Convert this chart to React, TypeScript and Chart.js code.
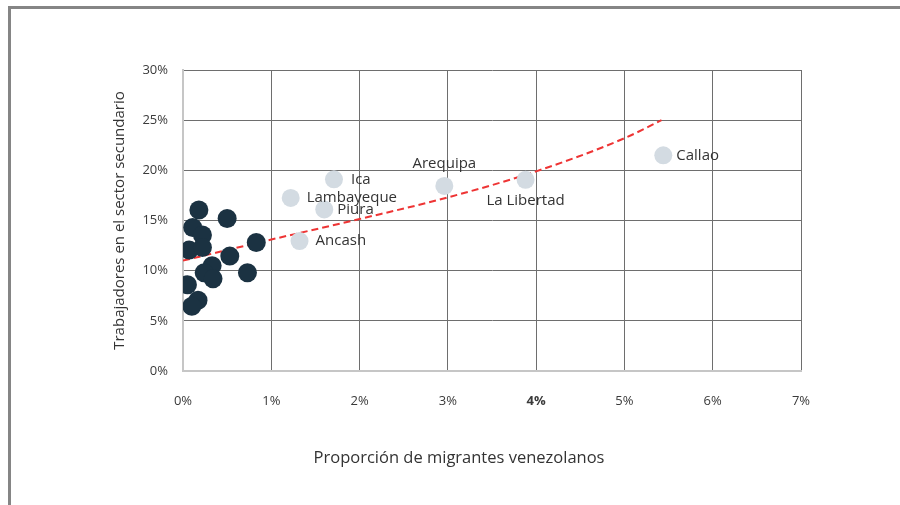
import React, { useEffect, useRef } from 'react';
import { Chart, registerables } from 'chart.js';

Chart.register(...registerables);

// Departamentos con baja proporción de migrantes (puntos oscuros)
const otherX = [0.18, 0.5, 0.11, 0.22, 0.83, 0.07, 0.22, 0.53, 0.33, 0.24, 0.73, 0.34, 0.05, 0.17, 0.1];
const otherY = [16.05, 15.2, 14.3, 13.55, 12.8, 12.05, 12.3, 11.45, 10.5, 9.8, 9.8, 9.2, 8.6, 7.05, 6.45];

// Departamentos destacados
const regionNames = ['Lambayeque', 'Ica', 'Piura', 'Ancash', 'Arequipa', 'La Libertad', 'Callao'];
const regionX = [1.22, 1.71, 1.6, 1.32, 2.96, 3.88, 5.44];
const regionY = [17.25, 19.1, 16.1, 12.95, 18.45, 19.05, 21.5];

// Línea de tendencia
const trendX = [0, 1, 2, 3, 4, 5, 5.42];
const trendY = [11.0, 13.1, 15.15, 17.3, 19.9, 23.2, 25.0];

const xTickValues = [0, 1, 2, 3, 4, 5, 6, 7];
const yTickValues = [0, 5, 10, 15, 20, 25, 30];

const xTitle = 'Proporción de migrantes venezolanos';
const yTitle = 'Trabajadores en el sector secundario';

const FONT = '"Open Sans", sans-serif';

const labelPlacement: Record<string, { side: string; dx: number; dy: number }> = {
  Lambayeque: { side: 'right', dx: 16, dy: 0 },
  Ica: { side: 'right', dx: 17, dy: 0 },
  Piura: { side: 'right', dx: 13, dy: 0 },
  Ancash: { side: 'right', dx: 16, dy: 0 },
  Arequipa: { side: 'center', dx: 0, dy: -22 },
  'La Libertad': { side: 'center', dx: 0, dy: 21 },
  Callao: { side: 'right', dx: 13, dy: 0 },
};

export default function App() {
  const ref = useRef<HTMLCanvasElement>(null);

  useEffect(() => {
    if (!ref.current) return;

    const textPlugin = {
      id: 'textPlugin',
      afterDatasetsDraw(chart: any) {
        const ctx = chart.ctx;
        ctx.save();
        const meta = chart.getDatasetMeta(1);
        ctx.font = `15px ${FONT}`;
        ctx.fillStyle = '#333333';
        ctx.textBaseline = 'middle';
        meta.data.forEach((pt: any, i: number) => {
          const name = regionNames[i];
          const p = labelPlacement[name] || { side: 'right', dx: 15, dy: 0 };
          ctx.textAlign = p.side === 'right' ? 'left' : 'center';
          ctx.fillText(name, pt.x + p.dx, pt.y + p.dy);
        });
        ctx.restore();
      },
      afterDraw(chart: any) {
        const ctx = chart.ctx;
        const area = chart.chartArea;
        ctx.save();
        ctx.font = `16.5px ${FONT}`;
        ctx.fillStyle = '#333333';
        ctx.textAlign = 'center';
        ctx.textBaseline = 'middle';
        ctx.fillText(xTitle, (area.left + area.right) / 2 - 33, area.bottom + 87);
        ctx.restore();
      },
    };

    const chart = new Chart(ref.current, {
      type: 'scatter',
      data: {
        datasets: [
          {
            label: 'Otros',
            data: otherX.map((x, i) => ({ x, y: otherY[i] })),
            backgroundColor: '#1b3242',
            borderColor: '#1b3242',
            pointRadius: 9.5,
            pointHoverRadius: 9.5,
            borderWidth: 0,
            order: 2,
          },
          {
            label: 'Destacados',
            data: regionX.map((x, i) => ({ x, y: regionY[i] })),
            backgroundColor: '#d3dbe2',
            borderColor: '#d3dbe2',
            pointRadius: 9,
            pointHoverRadius: 9,
            borderWidth: 0,
            order: 1,
          },
          {
            label: 'Tendencia',
            data: trendX.map((x, i) => ({ x, y: trendY[i] })),
            showLine: true,
            borderColor: '#ee3434',
            borderWidth: 2,
            borderDash: [7, 4],
            pointRadius: 0,
            pointHoverRadius: 0,
            cubicInterpolationMode: 'monotone',
            fill: false,
            order: 3,
          } as any,
        ],
      },
      options: {
        animation: false,
        responsive: false,
        layout: { padding: { top: 70, right: 99, left: 0, bottom: 0 } },
        plugins: {
          legend: { display: false },
          tooltip: { enabled: false },
          title: { display: false },
        },
        scales: {
          x: {
            type: 'linear',
            min: 0,
            max: 7,
            afterFit: (s: any) => {
              s.height = 134;
            },
            afterBuildTicks: (s: any) => {
              s.ticks = xTickValues.map((v) => ({ value: v }));
            },
            grid: { color: '#6e6e6e', lineWidth: 1, drawTicks: false },
            border: { color: '#c6c6c6', width: 2 },
            ticks: {
              padding: 22,
              color: '#3a3a3a',
              font: (ctx: any) => ({
                family: FONT,
                size: 13,
                weight: ctx.tick && ctx.tick.value === 4 ? 'bold' : 'normal',
              }),
              callback: (v: any) => v + '%',
            },
          },
          y: {
            type: 'linear',
            min: 0,
            max: 30,
            afterFit: (s: any) => {
              s.width = 183;
            },
            afterBuildTicks: (s: any) => {
              s.ticks = yTickValues.map((v) => ({ value: v }));
            },
            grid: { color: '#6e6e6e', lineWidth: 1, drawTicks: false },
            border: { color: '#c6c6c6', width: 2 },
            ticks: {
              padding: 15,
              color: '#3a3a3a',
              font: { family: FONT, size: 13 },
              callback: (v: any) => v + '%',
            },
            title: {
              display: true,
              text: yTitle,
              color: '#333333',
              font: { family: FONT, size: 15 },
              padding: { top: 111, bottom: 0 },
            },
          },
        },
      },
      plugins: [textPlugin],
    });

    return () => chart.destroy();
  }, []);

  return (
    <div style={{ position: 'absolute', left: 0, top: 0, width: 900, height: 505, background: '#ffffff', overflow: 'hidden' }}>
      <div
        style={{
          position: 'absolute',
          left: 8,
          top: 6,
          width: 1200,
          height: 1200,
          borderTop: '3px solid #858585',
          borderLeft: '3px solid #858585',
        }}
      />
      <canvas ref={ref} width={900} height={505} style={{ position: 'absolute', left: 0, top: 0 }} />
    </div>
  );
}
